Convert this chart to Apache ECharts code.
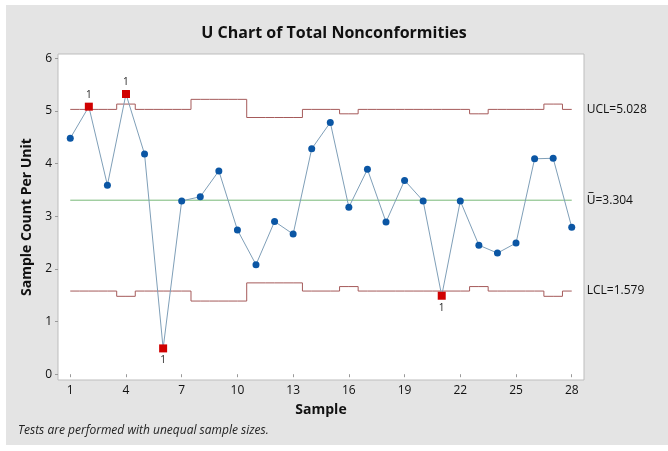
<!DOCTYPE html>
<html>
<head>
<meta charset="utf-8">
<script src="https://cdn.jsdelivr.net/npm/echarts@6/dist/echarts.min.js"></script>
<style>html,body{margin:0;padding:0;background:#fff;}#c{width:668px;height:451px;}</style>
</head>
<body>
<div id="c"></div>
<script>
var samples = [1,2,3,4,5,6,7,8,9,10,11,12,13,14,15,16,17,18,19,20,21,22,23,24,25,26,27,28];
var uValues = [4.48,5.08,3.59,5.32,4.18,0.49,3.29,3.37,3.86,2.74,2.08,2.90,2.66,4.28,4.78,3.17,3.89,2.89,3.68,3.29,1.49,3.29,2.45,2.30,2.49,4.09,4.10,2.79];
var uclValues = [5.028,5.028,5.028,5.129,5.028,5.028,5.028,5.219,5.219,5.219,4.874,4.874,4.874,5.028,5.028,4.944,5.028,5.028,5.028,5.028,5.028,5.028,4.944,5.028,5.028,5.028,5.129,5.028];
var lclValues = [1.579,1.579,1.579,1.479,1.579,1.579,1.579,1.389,1.389,1.389,1.734,1.734,1.734,1.579,1.579,1.664,1.579,1.579,1.579,1.579,1.579,1.579,1.664,1.579,1.579,1.579,1.479,1.579];
var centerValue = 3.304;
var flaggedSamples = [2,4,6,21];
var flaggedLabelPos = ['top','top','bottom','bottom'];
var xTicks = [1,4,7,10,13,16,19,22,25,28];
var yTicks = [0,1,2,3,4,5,6];

var font = '"Open Sans", "Noto Sans", sans-serif';
var chart = echarts.init(document.getElementById('c'));

var mainData = samples.map(function(s, i) {
  var k = flaggedSamples.indexOf(s);
  if (k >= 0) {
    return {
      value: [s, uValues[i]], symbol: 'rect', symbolSize: 8,
      itemStyle: {color: '#d00000'},
      label: {show: true, formatter: '1', position: flaggedLabelPos[k], distance: 3,
              color: '#222', fontSize: 10, fontFamily: font}
    };
  }
  return {value: [s, uValues[i]]};
});

chart.setOption({
  backgroundColor: '#ffffff',
  animation: false,
  graphic: [
    {type: 'rect', z: -10, shape: {x: 6, y: 5, width: 662, height: 440}, style: {fill: '#e4e4e4'}},
    {type: 'text', left: 18, top: 425, style: {text: 'Tests are performed with unequal sample sizes.',
      font: 'italic 12px ' + font, fill: '#222'}}
  ],
  title: {
    text: 'U Chart of Total Nonconformities', left: 'center', top: 20,
    textStyle: {fontFamily: font, fontSize: 16, fontWeight: 'bold', color: '#111'}
  },
  grid: {left: 58, top: 54, right: 84, bottom: 71, show: true, backgroundColor: '#ffffff',
         borderColor: '#bdbdbd', borderWidth: 1},
  xAxis: {
    type: 'value', min: 0.34, max: 28.66,
    name: 'Sample', nameLocation: 'middle', nameGap: 23,
    nameTextStyle: {fontFamily: font, fontSize: 14, fontWeight: 'bold', color: '#111'},
    axisLine: {show: false},
    splitLine: {show: false},
    axisTick: {show: true, length: 3, lineStyle: {color: '#999'}, customValues: xTicks},
    axisLabel: {customValues: xTicks, fontFamily: font, fontSize: 12, color: '#111', margin: 5}
  },
  yAxis: {
    type: 'value', min: -0.11, max: 6.08,
    name: 'Sample Count Per Unit', nameLocation: 'middle', nameGap: 24,
    nameTextStyle: {fontFamily: font, fontSize: 14, fontWeight: 'bold', color: '#111'},
    axisLine: {show: false},
    splitLine: {show: false},
    axisTick: {show: true, length: 3, lineStyle: {color: '#999'}, customValues: yTicks},
    axisLabel: {customValues: yTicks, fontFamily: font, fontSize: 12, color: '#111', margin: 6}
  },
  series: [
    {
      type: 'line', name: 'UCL', step: 'middle', symbol: 'none',
      data: samples.map(function(s, i) { return [s, uclValues[i]]; }),
      lineStyle: {color: '#a55a5a', width: 1},
      endLabel: {show: true, formatter: 'UCL=5.028', distance: 15, fontFamily: font, fontSize: 12, color: '#111'}
    },
    {
      type: 'line', name: 'LCL', step: 'middle', symbol: 'none',
      data: samples.map(function(s, i) { return [s, lclValues[i]]; }),
      lineStyle: {color: '#a55a5a', width: 1},
      endLabel: {show: true, formatter: 'LCL=1.579', distance: 15, fontFamily: font, fontSize: 12, color: '#111'}
    },
    {
      type: 'line', name: 'Center', symbol: 'none',
      data: [[samples[0], centerValue], [samples[samples.length - 1], centerValue]],
      lineStyle: {color: '#78b878', width: 1},
      endLabel: {show: true, formatter: 'U\u0305=3.304', distance: 15, fontFamily: font, fontSize: 12, color: '#111'}
    },
    {
      type: 'line', name: 'U', symbol: 'circle', symbolSize: 7, z: 5,
      data: mainData,
      itemStyle: {color: '#0b56a4'},
      lineStyle: {color: '#7f9fb8', width: 1}
    }
  ]
});
</script>
</body>
</html>
